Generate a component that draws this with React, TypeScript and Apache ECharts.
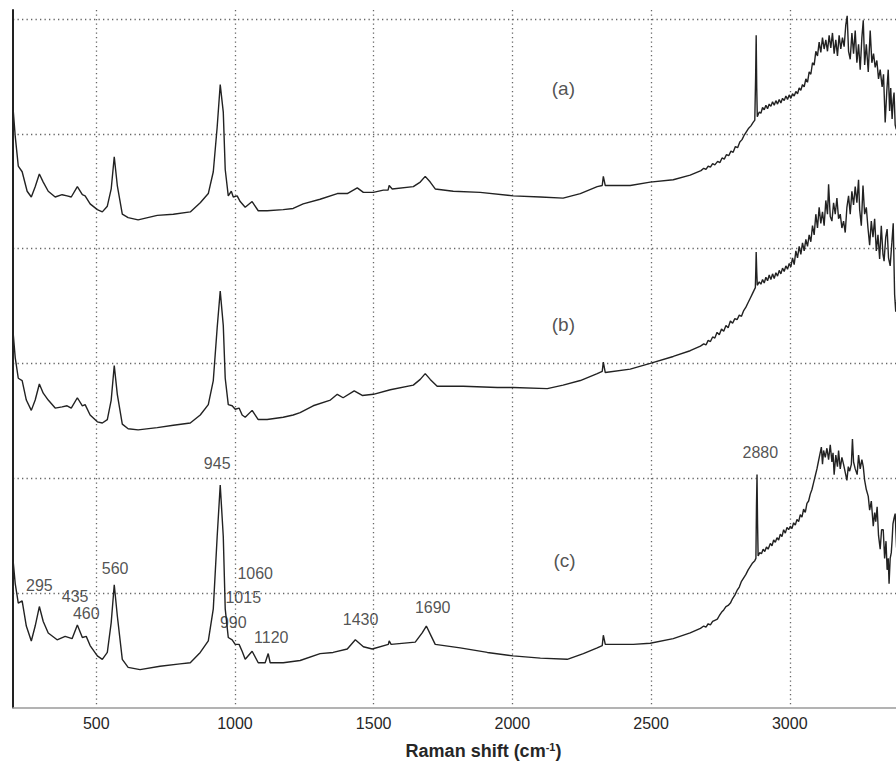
import React, { useEffect, useRef } from "react";
import * as echarts from "echarts";

// Axis ticks (cm-1) and horizontal grid positions (intensity units, stacked)
const xTickValues = [500, 1000, 1500, 2000, 2500, 3000];
const yGridValues = [1, 2, 3, 4, 5, 6];

// Spectrum (a)
const spectrumA: [number, number][] = [
  [200, 5.23], [208, 4.98], [219, 4.72], [233, 4.67], [251, 4.5], [266, 4.45], [280, 4.54], [295, 4.65],
  [309, 4.58], [327, 4.5], [352, 4.45], [377, 4.47], [395, 4.46], [410, 4.45], [432, 4.54], [450, 4.47],
  [460, 4.46], [478, 4.39], [504, 4.34], [522, 4.32], [540, 4.37], [554, 4.52], [565, 4.8], [576, 4.55],
  [594, 4.3], [615, 4.27], [651, 4.25], [720, 4.29], [778, 4.3], [839, 4.32], [875, 4.4], [904, 4.48],
  [922, 4.67], [936, 5.06], [947, 5.43], [958, 5.19], [965, 4.69], [976, 4.46], [987, 4.5], [994, 4.45],
  [1008, 4.46], [1019, 4.41], [1037, 4.36], [1062, 4.41], [1084, 4.33], [1116, 4.33], [1174, 4.34],
  [1210, 4.35], [1246, 4.39], [1307, 4.43], [1369, 4.48], [1405, 4.48], [1441, 4.53], [1463, 4.49],
  [1499, 4.49], [1535, 4.51], [1552, 4.51], [1556, 4.55], [1567, 4.52], [1643, 4.54], [1668, 4.58],
  [1686, 4.63], [1704, 4.58], [1722, 4.52], [1787, 4.5], [1884, 4.49], [2003, 4.46], [2101, 4.45],
  [2183, 4.44], [2245, 4.48], [2306, 4.54], [2324, 4.55], [2328, 4.63], [2335, 4.55], [2425, 4.55],
  [2497, 4.58], [2580, 4.6], [2641, 4.64], [2680, 4.68], [2690, 4.7], [2698, 4.69], [2706, 4.72],
  [2714, 4.71], [2722, 4.74], [2730, 4.73], [2740, 4.76], [2748, 4.75], [2756, 4.79], [2764, 4.78],
  [2772, 4.82], [2780, 4.81], [2788, 4.85], [2796, 4.84], [2804, 4.89], [2812, 4.88], [2820, 4.93],
  [2828, 4.95], [2836, 4.99], [2844, 5.02], [2852, 5.05], [2860, 5.07], [2868, 5.1], [2874, 5.12],
  [2877, 5.5], [2879, 5.86], [2881, 5.4], [2883, 5.15], [2890, 5.19], [2896, 5.18], [2902, 5.23],
  [2908, 5.21], [2914, 5.25], [2920, 5.22], [2926, 5.26], [2932, 5.24], [2938, 5.28], [2944, 5.25],
  [2950, 5.29], [2956, 5.26], [2962, 5.3], [2968, 5.27], [2974, 5.31], [2980, 5.29], [2986, 5.33],
  [2992, 5.3], [2998, 5.34], [3004, 5.31], [3010, 5.35], [3016, 5.33], [3022, 5.37], [3028, 5.35],
  [3034, 5.4], [3040, 5.38], [3046, 5.43], [3052, 5.41], [3058, 5.48], [3064, 5.45], [3070, 5.54],
  [3076, 5.52], [3082, 5.62], [3088, 5.6], [3094, 5.72], [3100, 5.68], [3106, 5.8], [3112, 5.71],
  [3118, 5.84], [3124, 5.74], [3130, 5.82], [3136, 5.72], [3142, 5.86], [3148, 5.75], [3154, 5.88],
  [3160, 5.7], [3166, 5.82], [3172, 5.68], [3178, 5.86], [3184, 5.74], [3190, 5.84], [3196, 5.76],
  [3202, 5.95], [3207, 6.03], [3212, 5.72], [3218, 5.65], [3224, 5.88], [3230, 5.7], [3236, 5.9],
  [3242, 5.62], [3248, 5.78], [3254, 5.56], [3260, 5.84], [3265, 5.99], [3270, 5.6], [3276, 5.78],
  [3283, 5.54], [3290, 5.9], [3296, 5.62], [3302, 5.7], [3308, 5.58], [3314, 5.64], [3320, 5.48],
  [3326, 5.56], [3333, 5.41], [3338, 5.52], [3344, 5.1], [3350, 5.38], [3355, 5.56], [3360, 5.2],
  [3364, 5.4], [3369, 5.13], [3373, 5.3], [3376, 5.36], [3380, 5.08], [3384, 5.04], [3390, 5.2],
  [3396, 5.0], [3402, 5.12], [3410, 4.98],
];

// Spectrum (b)
const spectrumB: [number, number][] = [
  [200, 3.28], [208, 3.05], [219, 2.87], [233, 2.85], [248, 2.68], [266, 2.59], [280, 2.68], [295, 2.82],
  [309, 2.74], [327, 2.68], [352, 2.61], [377, 2.62], [395, 2.63], [410, 2.61], [432, 2.7], [450, 2.63],
  [460, 2.64], [478, 2.55], [504, 2.49], [522, 2.48], [540, 2.51], [554, 2.68], [565, 2.98], [576, 2.73],
  [594, 2.47], [615, 2.43], [651, 2.42], [720, 2.44], [778, 2.46], [839, 2.48], [875, 2.55], [904, 2.64],
  [922, 2.85], [936, 3.31], [947, 3.63], [958, 3.33], [965, 2.87], [976, 2.64], [990, 2.63], [1001, 2.6],
  [1015, 2.61], [1026, 2.55], [1037, 2.53], [1062, 2.59], [1084, 2.51], [1116, 2.51], [1174, 2.53],
  [1210, 2.55], [1235, 2.57], [1282, 2.63], [1344, 2.68], [1369, 2.73], [1390, 2.7], [1430, 2.76],
  [1459, 2.72], [1499, 2.73], [1560, 2.77], [1643, 2.81], [1668, 2.86], [1686, 2.91], [1704, 2.86],
  [1729, 2.8], [1823, 2.8], [1946, 2.79], [2003, 2.79], [2126, 2.78], [2183, 2.81], [2245, 2.85],
  [2306, 2.91], [2324, 2.93], [2328, 3.01], [2335, 2.92], [2425, 2.95], [2497, 3.0], [2580, 3.06],
  [2641, 3.11], [2678, 3.15], [2690, 3.17], [2698, 3.16], [2706, 3.2], [2714, 3.19], [2722, 3.23],
  [2730, 3.22], [2738, 3.27], [2746, 3.25], [2754, 3.3], [2762, 3.28], [2770, 3.33], [2778, 3.31],
  [2786, 3.37], [2794, 3.35], [2802, 3.39], [2810, 3.38], [2818, 3.42], [2826, 3.41], [2834, 3.46],
  [2842, 3.49], [2850, 3.53], [2858, 3.57], [2866, 3.61], [2872, 3.64], [2876, 3.66], [2878, 3.85],
  [2879, 3.97], [2881, 3.8], [2883, 3.68], [2890, 3.71], [2896, 3.69], [2902, 3.73], [2908, 3.7],
  [2914, 3.75], [2920, 3.72], [2926, 3.77], [2932, 3.73], [2938, 3.78], [2944, 3.74], [2950, 3.79],
  [2956, 3.76], [2962, 3.81], [2968, 3.78], [2974, 3.83], [2980, 3.8], [2986, 3.85], [2992, 3.82],
  [2998, 3.87], [3004, 3.84], [3010, 3.92], [3016, 3.86], [3022, 3.98], [3028, 3.92], [3034, 4.02],
  [3040, 3.95], [3046, 4.05], [3052, 3.98], [3058, 4.08], [3064, 4.02], [3070, 4.12], [3076, 4.06],
  [3082, 4.2], [3088, 4.12], [3094, 4.3], [3100, 4.18], [3106, 4.36], [3112, 4.22], [3118, 4.32],
  [3124, 4.2], [3130, 4.42], [3136, 4.3], [3140, 4.56], [3146, 4.28], [3152, 4.24], [3158, 4.4],
  [3164, 4.3], [3170, 4.44], [3176, 4.26], [3182, 4.3], [3188, 4.18], [3194, 4.24], [3200, 4.14],
  [3206, 4.36], [3212, 4.46], [3218, 4.3], [3224, 4.5], [3230, 4.38], [3236, 4.54], [3242, 4.4],
  [3248, 4.6], [3252, 4.34], [3258, 4.2], [3264, 4.55], [3270, 4.3], [3276, 4.36], [3282, 4.18],
  [3288, 4.03], [3294, 4.24], [3300, 4.1], [3306, 4.26], [3312, 3.98], [3318, 4.12], [3324, 3.91],
  [3330, 4.2], [3336, 3.95], [3340, 3.89], [3346, 4.1], [3351, 4.17], [3356, 3.92], [3362, 3.85],
  [3368, 4.05], [3373, 4.22], [3378, 3.6], [3382, 3.45], [3390, 3.7], [3398, 3.5], [3410, 3.6],
];

// Spectrum (c)
const spectrumC: [number, number][] = [
  [200, 1.29], [208, 1.08], [219, 0.91], [233, 0.93], [248, 0.71], [266, 0.58], [280, 0.71], [295, 0.88],
  [309, 0.75], [327, 0.65], [359, 0.59], [388, 0.62], [413, 0.6], [432, 0.72], [450, 0.61], [464, 0.62],
  [478, 0.54], [504, 0.45], [522, 0.42], [540, 0.48], [554, 0.74], [565, 1.07], [576, 0.8], [594, 0.42],
  [615, 0.35], [658, 0.33], [730, 0.36], [802, 0.38], [839, 0.39], [875, 0.48], [904, 0.58], [922, 0.86],
  [936, 1.49], [947, 1.94], [958, 1.49], [965, 0.86], [976, 0.61], [990, 0.59], [1001, 0.55], [1015, 0.55],
  [1026, 0.49], [1037, 0.42], [1062, 0.49], [1084, 0.39], [1109, 0.39], [1120, 0.47], [1127, 0.39],
  [1174, 0.39], [1235, 0.41], [1307, 0.47], [1354, 0.48], [1405, 0.51], [1434, 0.59], [1463, 0.53],
  [1495, 0.51], [1553, 0.55], [1556, 0.58], [1563, 0.55], [1650, 0.57], [1675, 0.65], [1690, 0.71],
  [1708, 0.62], [1722, 0.55], [1812, 0.52], [1910, 0.48], [2003, 0.45], [2101, 0.43], [2198, 0.42],
  [2256, 0.47], [2306, 0.52], [2324, 0.54], [2328, 0.63], [2335, 0.55], [2436, 0.55], [2497, 0.56],
  [2580, 0.6], [2641, 0.65], [2678, 0.69], [2690, 0.71], [2698, 0.7], [2706, 0.73], [2714, 0.72],
  [2722, 0.75], [2730, 0.76], [2739, 0.77], [2746, 0.8], [2754, 0.83], [2762, 0.85], [2770, 0.88],
  [2778, 0.89], [2786, 0.91], [2794, 0.95], [2802, 0.98], [2810, 1.02], [2818, 1.05], [2826, 1.1],
  [2834, 1.13], [2842, 1.16], [2850, 1.2], [2858, 1.23], [2866, 1.26], [2874, 1.28], [2878, 1.3],
  [2880, 1.75], [2882, 2.03], [2884, 1.6], [2886, 1.32], [2892, 1.35], [2898, 1.34], [2904, 1.38],
  [2910, 1.36], [2916, 1.4], [2922, 1.38], [2930, 1.43], [2936, 1.41], [2942, 1.46], [2948, 1.44],
  [2954, 1.48], [2960, 1.46], [2966, 1.51], [2972, 1.49], [2978, 1.55], [2984, 1.52], [2990, 1.57],
  [2996, 1.55], [3002, 1.58], [3008, 1.56], [3014, 1.61], [3020, 1.59], [3026, 1.64], [3032, 1.62],
  [3038, 1.68], [3044, 1.66], [3050, 1.73], [3056, 1.7], [3062, 1.78], [3068, 1.8], [3074, 1.86],
  [3080, 1.9], [3086, 1.96], [3092, 2.02], [3098, 2.08], [3103, 2.14], [3108, 2.2], [3114, 2.27],
  [3118, 2.12], [3122, 2.24], [3128, 2.18], [3134, 2.26], [3140, 2.16], [3146, 2.29], [3152, 2.14],
  [3156, 2.22], [3160, 2.03], [3166, 2.2], [3172, 2.1], [3176, 2.24], [3182, 2.08], [3188, 2.18],
  [3194, 2.12], [3200, 2.05], [3206, 1.98], [3211, 2.1], [3216, 2.06], [3222, 2.12], [3226, 2.34],
  [3230, 2.14], [3236, 2.08], [3243, 2.03], [3248, 2.2], [3254, 2.08], [3260, 2.16], [3265, 2.1],
  [3270, 1.98], [3276, 1.9], [3283, 1.84], [3288, 1.72], [3294, 1.8], [3301, 1.58], [3306, 1.7],
  [3310, 1.62], [3315, 1.75], [3320, 1.5], [3326, 1.38], [3331, 1.55], [3337, 1.55], [3342, 1.3],
  [3347, 1.45], [3351, 1.2], [3355, 1.3], [3358, 1.08], [3362, 1.3], [3366, 1.35], [3369, 1.46],
  [3372, 1.6], [3376, 1.65], [3380, 1.69], [3385, 1.4], [3392, 1.25], [3400, 1.35], [3410, 1.2],
];

// Peak annotations [x, y, text]
const peakLabels: [number, number, string][] = [
  [295, 1.065, "295"], [424, 0.97, "435"], [464, 0.82, "460"], [568, 1.21, "560"],
  [936, 2.13, "945"], [1073, 1.17, "1060"], [1030, 0.96, "1015"], [994, 0.74, "990"],
  [1131, 0.61, "1120"], [1453, 0.77, "1430"], [1713, 0.87, "1690"], [2894, 2.22, "2880"],
];

// Trace identifiers [x, y, text]
const traceLabels: [number, number, string][] = [
  [2184, 5.4, "(a)"], [2184, 3.34, "(b)"], [2188, 1.28, "(c)"],
];

const FONT = "'Liberation Sans', Arial, Helvetica, sans-serif";
const TEXT = "#262626";
const LINE = "#222222";

export default function App() {
  const ref = useRef<HTMLDivElement>(null);

  useEffect(() => {
    if (!ref.current) return;
    const chart = echarts.init(ref.current, null, { renderer: "svg" });

    const lineSeries = (data: [number, number][]) => ({
      type: "line",
      data,
      showSymbol: false,
      symbol: "none",
      silent: true,
      lineStyle: { color: LINE, width: 1.4 },
    });

    const textSeries = (data: [number, number, string][], size: number) => ({
      type: "scatter",
      data,
      symbolSize: 1,
      silent: true,
      itemStyle: { color: "rgba(0,0,0,0)" },
      label: {
        show: true,
        position: "inside",
        align: "center",
        verticalAlign: "middle",
        formatter: (p: any) => p.value[2],
        fontSize: size,
        fontFamily: FONT,
        color: TEXT,
      },
    });

    chart.setOption({
      animation: false,
      backgroundColor: "#ffffff",
      grid: { left: 13, top: 10, right: 0, height: 702, containLabel: false },
      xAxis: {
        type: "value",
        min: 200,
        max: 3383,
        name: "Raman shift (cm{sup|-1})",
        nameLocation: "middle",
        nameGap: 34,
        nameTextStyle: {
          fontSize: 18,
          fontWeight: "bold",
          fontFamily: FONT,
          color: TEXT,
          padding: [0, 0, 0, 58],
          rich: {
            sup: { fontSize: 11, fontWeight: "bold", fontFamily: FONT, color: TEXT, verticalAlign: "top", padding: [0, 0, 8, 0] },
          },
        },
        axisLine: { show: true, lineStyle: { color: "#9a9a9a", width: 1.5 } },
        axisTick: { show: false, customValues: xTickValues },
        axisLabel: {
          customValues: xTickValues,
          formatter: (v: number) => String(v),
          fontSize: 16,
          fontFamily: FONT,
          color: TEXT,
          margin: 8,
        },
        splitLine: { show: true, lineStyle: { color: "#666", width: 1.3, type: [1.3, 3.2] } },
      },
      yAxis: {
        type: "value",
        min: 0,
        max: 6.08,
        axisLine: { show: true, lineStyle: { color: "#222", width: 2 } },
        axisTick: { show: false, customValues: yGridValues },
        axisLabel: { show: false, customValues: yGridValues },
        splitLine: { show: true, lineStyle: { color: "#666", width: 1.3, type: [1.3, 3.2] } },
      },
      series: [
        lineSeries(spectrumA),
        lineSeries(spectrumB),
        lineSeries(spectrumC),
        textSeries(peakLabels, 16),
        textSeries(traceLabels, 19),
      ],
    });

    return () => chart.dispose();
  }, []);

  return (
    <div
      ref={ref}
      style={{ position: "absolute", left: 0, top: 0, width: 896, height: 765, background: "#fff" }}
    />
  );
}
